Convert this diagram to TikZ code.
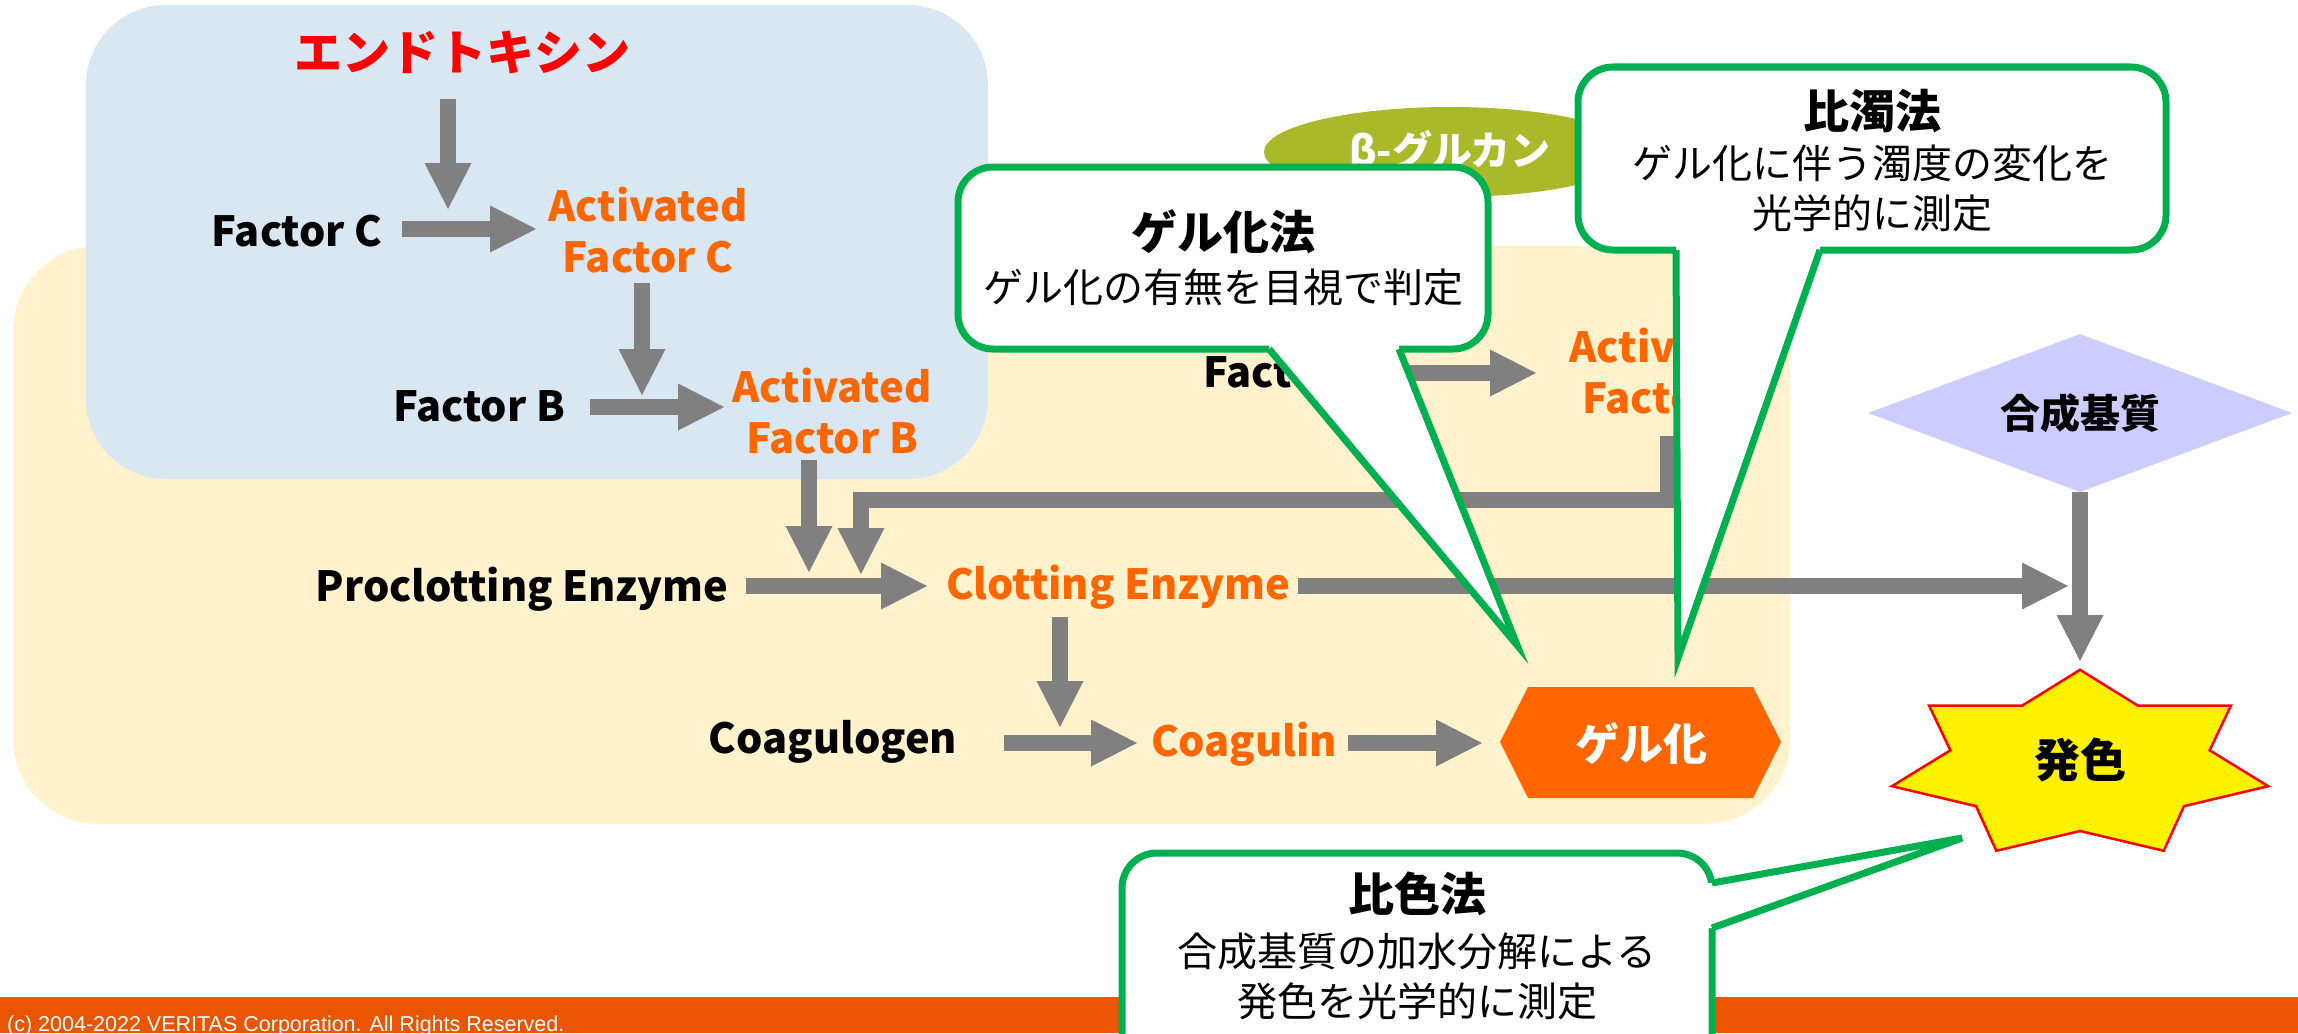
\documentclass[tikz,border=0pt]{standalone}
\usepackage{fontspec}
\setmainfont{Noto Sans CJK JP}
\newfontfamily\footfont{Liberation Sans}
\usetikzlibrary{arrows.meta,shapes.geometric,calc}
\definecolor{bluebg}{RGB}{216,231,241}
\definecolor{yellowbg}{RGB}{255,242,204}
\definecolor{agray}{RGB}{128,128,128}
\definecolor{actorange}{RGB}{255,102,0}
\definecolor{endored}{RGB}{255,0,0}
\definecolor{cgreen}{RGB}{0,176,80}
\definecolor{glucanolive}{RGB}{169,185,41}
\definecolor{lavender}{RGB}{204,204,255}
\definecolor{footorange}{RGB}{234,85,4}
\newcommand\fsz[2]{\fontsize{#1}{#2}\selectfont}
\tikzset{
  garrow/.style={draw=agray, line width=16pt, line join=miter,
    -{Triangle[length=46pt,width=47pt,line width=0pt]}},
  lbltext/.style={font=\fsz{41.5}{51}\bfseries, inner sep=0pt, align=center},
  txtblack/.style={lbltext, text=black},
  txtorange/.style={lbltext, text=actorange},
  calloutbox/.style={fill=white, draw=cgreen, line width=7pt, rounded corners=35pt},
  calloutedge/.style={draw=cgreen, line width=7pt, line join=miter, line cap=square},
  ctitle/.style={font=\fsz{46}{56}\bfseries, inner sep=0pt},
  cbody/.style={font=\fsz{40}{50}, inner sep=0pt, align=center},
}
\begin{document}
\begin{tikzpicture}[x=1pt,y=-1pt]
\useasboundingbox (0,0) rectangle (2298,1033);
\clip (0,0) rectangle (2298,1033);
% backgrounds
\fill[yellowbg, rounded corners=85pt] (13,246) rectangle (1790,824);
\fill[bluebg, rounded corners=80pt] (86,5) rectangle (988,479);

% text nodes
\node[font=\fsz{48}{56}\bfseries, text=endored, inner sep=0pt] (endo) at (462,52) {エンドトキシン};
\node[txtblack] (fc) at (297,231) {Factor C};
\node[txtorange] (afc) at (648,230) {Activated\\Factor C};
\node[txtblack] (fb) at (479,406) {Factor B};
\node[txtorange] (afb) at (832,411) {Activated\\Factor B};
\node[txtblack] (pe) at (522,589) {Proclotting Enzyme};
\node[txtorange] (ce) at (1118,587) {Clotting Enzyme};
\node[txtblack] (cg) at (833,742) {Coagulogen};
\node[txtorange] (cn) at (1244,744) {Coagulin};
\node[txtblack] (fg) at (1290,372) {Factor G};
\node[txtorange] (afg) at (1669,371) {Activated\\Factor G};

% arrow end points
\coordinate (endoOut) at (448,99);   \coordinate (fcJoin) at (448,209);
\coordinate (fcOut) at (402,229);    \coordinate (afcIn) at (536,229);
\coordinate (afcOut) at (642,283);   \coordinate (fbJoin) at (642,395);
\coordinate (fbOut) at (590,407);    \coordinate (afbIn) at (724,407);
\coordinate (afbOut) at (809,460);   \coordinate (peJoinA) at (809,572);
\coordinate (afgOut) at (1668,436);  \coordinate (elbowR) at (1668,500);
\coordinate (elbowL) at (861,500);   \coordinate (peJoinB) at (861,574);
\coordinate (peOut) at (746,586);    \coordinate (ceIn) at (927,586);
\coordinate (ceOutR) at (1298,586);  \coordinate (colorJoin) at (2068,586);
\coordinate (ceOutD) at (1060,617);  \coordinate (cgJoin) at (1060,727);
\coordinate (cgOut) at (1004,743);   \coordinate (cnIn) at (1137,743);
\coordinate (cnOut) at (1348,743);   \coordinate (gelIn) at (1482,743);
\coordinate (fgOut) at (1398,373);   \coordinate (afgIn) at (1536,373);
\coordinate (starTop) at (2080,661);

% connectors
\draw[garrow] (endoOut) -- (fcJoin);
\draw[garrow] (fcOut) -- (afcIn);
\draw[garrow] (afcOut) -- (fbJoin);
\draw[garrow] (fbOut) -- (afbIn);
\draw[garrow] (afbOut) -- (peJoinA);
\draw[garrow] (afgOut) -- (elbowR) -- (elbowL) -- (peJoinB);
\draw[garrow] (peOut) -- (ceIn);
\draw[garrow] (ceOutR) -- (colorJoin);
\draw[garrow] (ceOutD) -- (cgJoin);
\draw[garrow] (cgOut) -- (cnIn);
\draw[garrow] (cnOut) -- (gelIn);
\draw[garrow] (fgOut) -- (afgIn);

% gel hexagon
\fill[actorange] (1500,742) -- (1528,687) -- (1753,687) -- (1781,742) -- (1753,798) -- (1528,798) -- cycle;
\node[font=\fsz{44}{52}\bfseries, text=white, inner sep=0pt] (gel) at (1641,743) {ゲル化};

% beta-glucan
\node[ellipse, fill=glucanolive, minimum width=372pt, minimum height=90pt, inner sep=0pt,
      text=white, font=\fsz{40}{48}\bfseries] (glucan) at (1450,152) {β-グルカン};

% substrate diamond
\node[diamond, fill=lavender, minimum width=424pt, minimum height=158pt, inner sep=0pt, aspect=2.68,
      font=\fsz{40}{48}\bfseries] (sub) at (2080,413) {合成基質};
\draw[garrow] (sub.south) -- (starTop);

% colour star
\filldraw[fill=yellow, draw=red, line width=2.5pt, shift={(2080,765)}]
  (270:193 and 95.2) -- (295.71:133 and 66) -- (321.43:193 and 95.2) -- (347.14:133 and 66)
  -- (12.86:193 and 95.2) -- (38.57:133 and 66) -- (64.29:193 and 95.2) -- (90:133 and 66)
  -- (115.71:193 and 95.2) -- (141.43:133 and 66) -- (167.14:193 and 95.2) -- (192.86:133 and 66)
  -- (218.57:193 and 95.2) -- (244.29:133 and 66) -- cycle;
\node[font=\fsz{46}{54}\bfseries, inner sep=0pt] (hatsu) at (2080,760) {発色};

% callout: gel method
\draw[calloutbox] (958,167) rectangle (1488,349);
\fill[white] (1269,343) -- (1269,349) -- (1517,645) -- (1399,349) -- (1399,343) -- cycle;
\draw[calloutedge] (1269,349) -- (1517,645) -- (1399,349);
\node[ctitle] (gelT) at (1223,232) {ゲル化法};
\node[cbody] (gelB) at (1223,287) {ゲル化の有無を目視で判定};

% callout: turbidimetric
\draw[calloutbox] (1578,67) rectangle (2166,250);
\fill[white] (1676,244) -- (1676,250) -- (1678,658) -- (1820,250) -- (1820,244) -- cycle;
\draw[calloutedge] (1676,250) -- (1678,658) -- (1820,250);
\node[ctitle] (turbT) at (1872,111) {比濁法};
\node[cbody] (turbB) at (1872,188) {ゲル化に伴う濁度の変化を\\光学的に測定};

% footer
\fill[footorange] (0,997) rectangle (2298,1033);
\node[anchor=base west, font=\footfont\fsz{21.5}{25}, text=white, inner sep=0pt] (copyright) at (7,1031)
  {(c) 2004-2022 VERITAS Corporation. All Rights Reserved.};

% callout: colorimetric
\draw[calloutbox] (1122,853) rectangle (1712,1075);
\fill[white] (1706,883) -- (1712,883) -- (1962,838) -- (1712,928) -- (1706,928) -- cycle;
\draw[calloutedge] (1712,883) -- (1962,838) -- (1712,928);
\node[ctitle] (colT) at (1417,894) {比色法};
\node[cbody] (colB) at (1417,976) {合成基質の加水分解による\\発色を光学的に測定};
\end{tikzpicture}
\end{document}
